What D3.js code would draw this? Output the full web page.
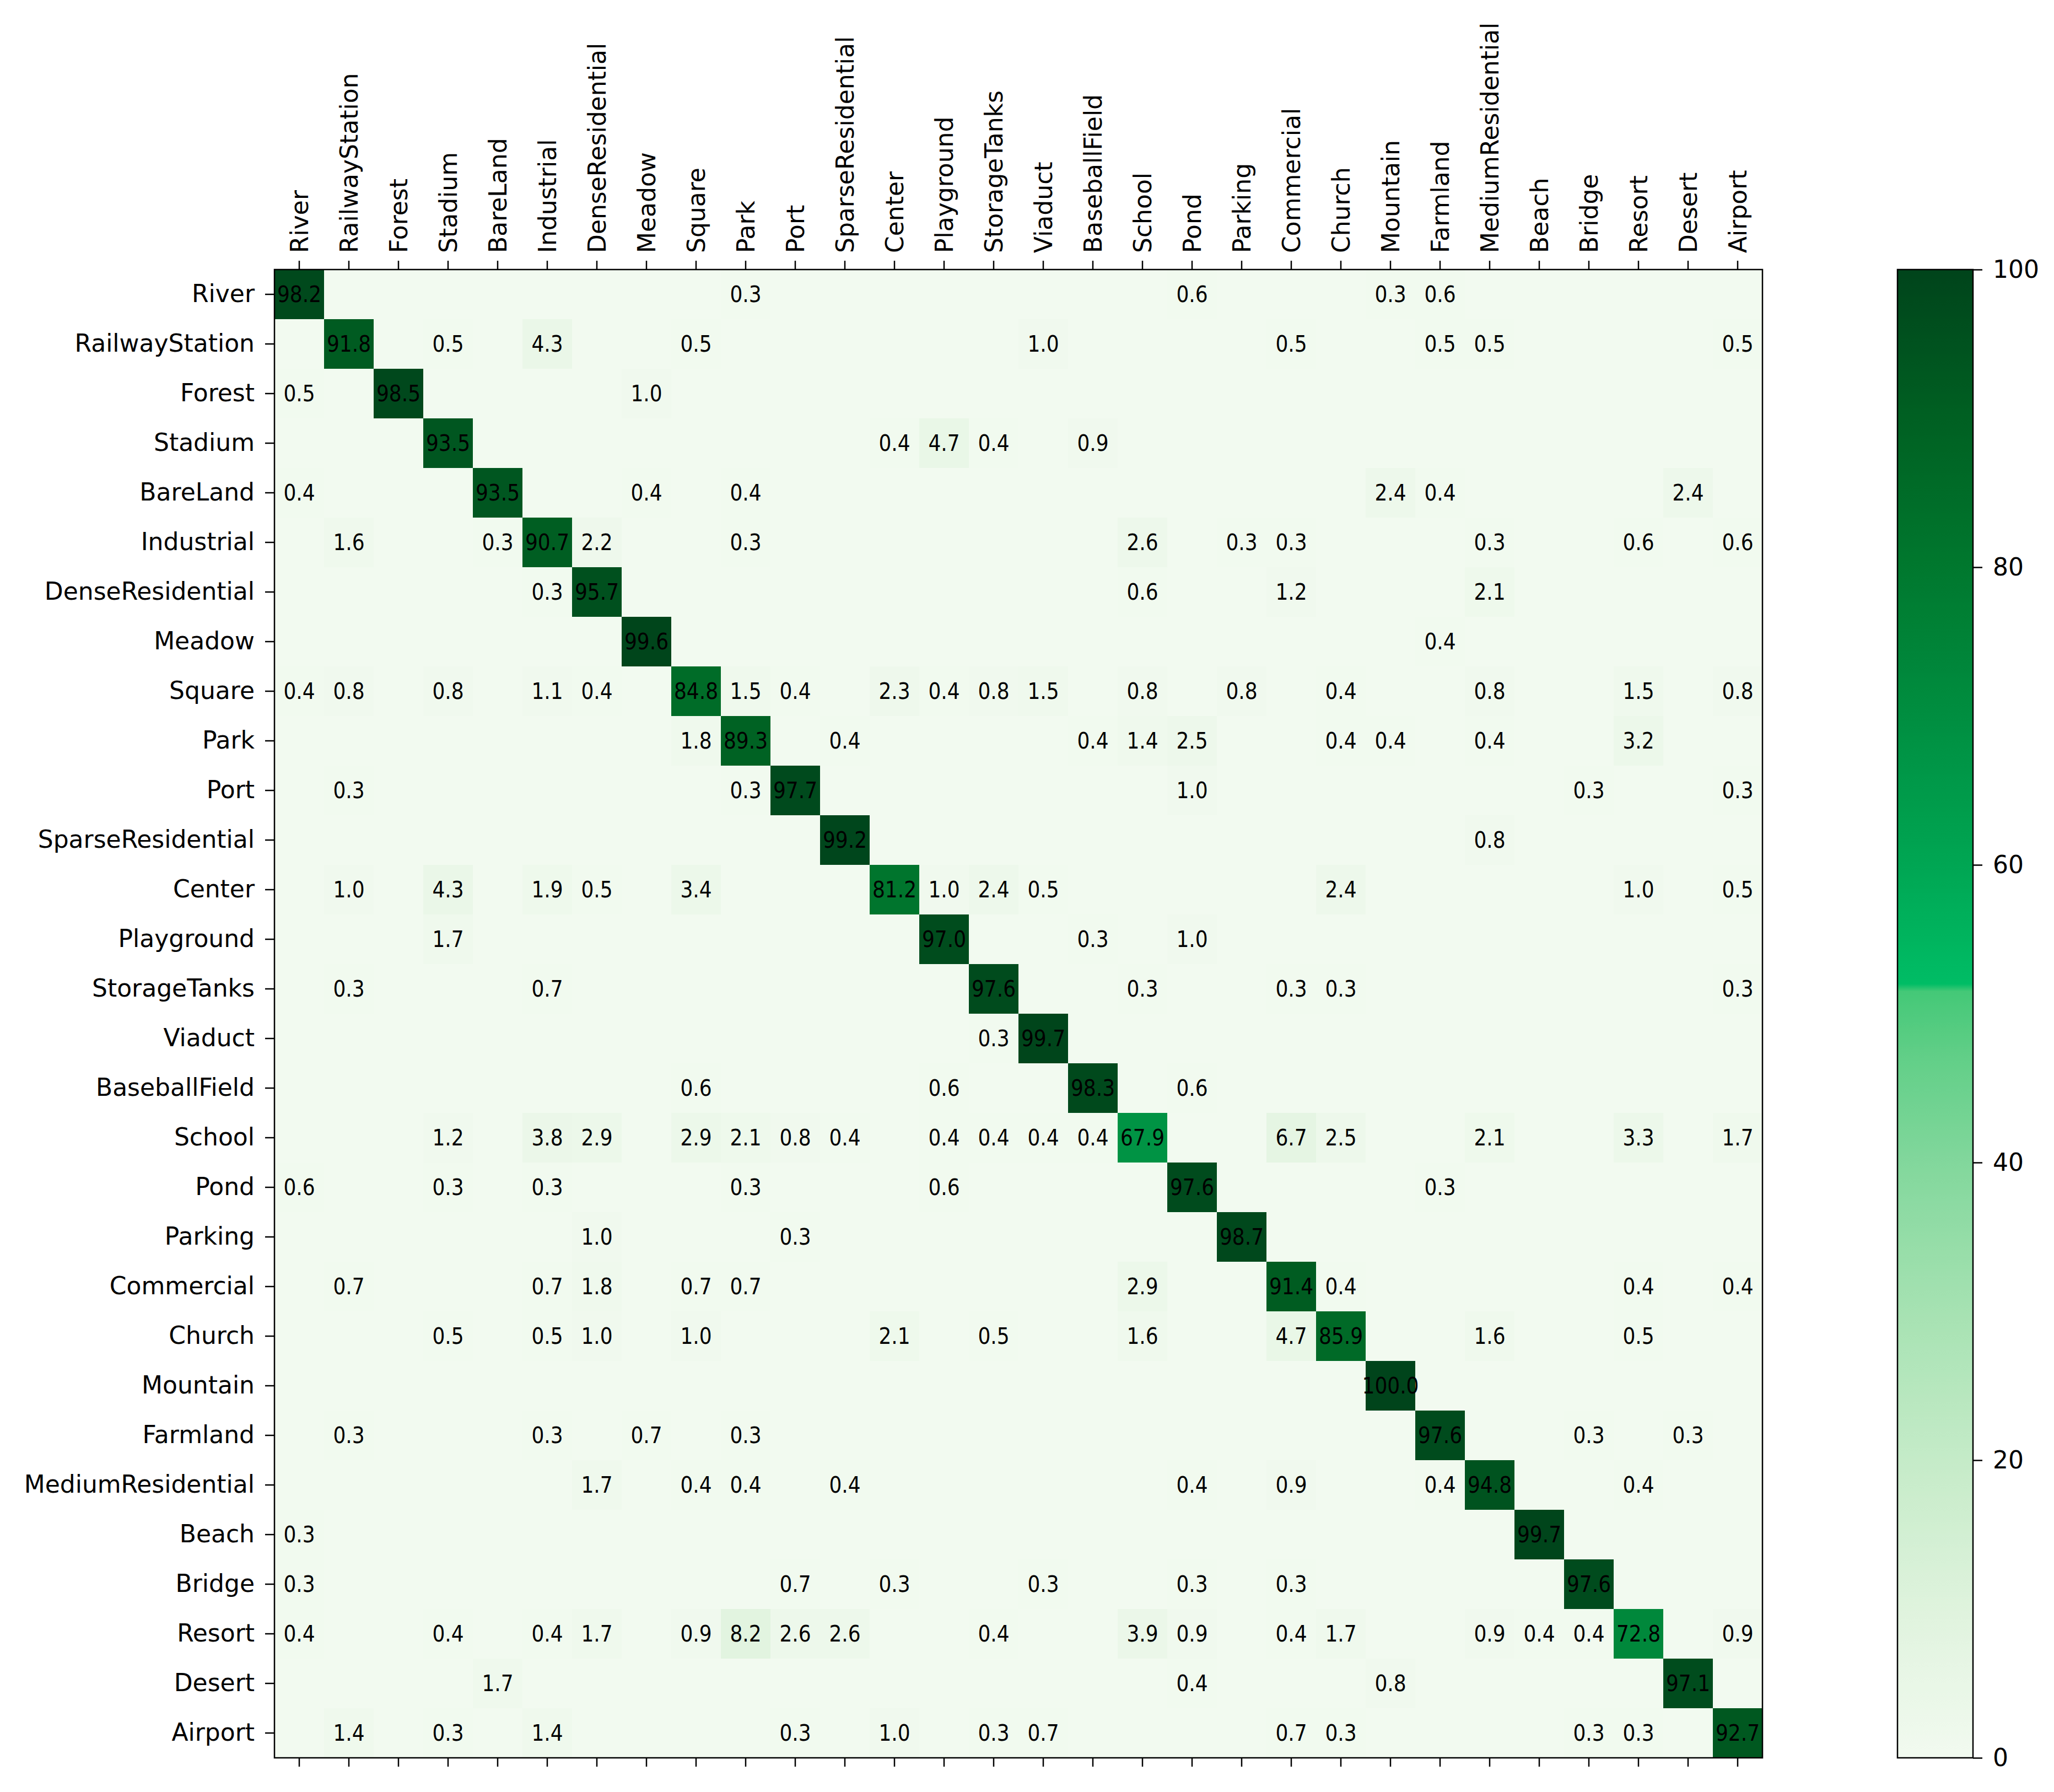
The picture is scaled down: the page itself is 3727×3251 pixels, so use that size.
<!DOCTYPE html>
<html>
<head>
<meta charset="utf-8">
<script src="https://cdn.jsdelivr.net/npm/d3@7"></script>
<style>
  body { margin: 0; background: #fff; }
  svg text { font-family: 'DejaVu Sans', sans-serif; fill: #000; }
</style>
</head>
<body>
<svg id="chart"></svg>
<script>
var CLASSES = ['River', 'RailwayStation', 'Forest', 'Stadium', 'BareLand', 'Industrial',
  'DenseResidential', 'Meadow', 'Square', 'Park', 'Port', 'SparseResidential', 'Center',
  'Playground', 'StorageTanks', 'Viaduct', 'BaseballField', 'School', 'Pond', 'Parking',
  'Commercial', 'Church', 'Mountain', 'Farmland', 'MediumResidential', 'Beach', 'Bridge',
  'Resort', 'Desert', 'Airport'];

// correct predictions (%), one per class in the order above
var DIAGONAL = [98.2, 91.8, 98.5, 93.5, 93.5, 90.7, 95.7, 99.6, 84.8, 89.3,
  97.7, 99.2, 81.2, 97.0, 97.6, 99.7, 98.3, 67.9, 97.6, 98.7,
  91.4, 85.9, 100.0, 97.6, 94.8, 99.7, 97.6, 72.8, 97.1, 92.7];

// [true class, predicted class, %]
var MISSES = [
  ['River', 'Park', 0.3], ['River', 'Pond', 0.6], ['River', 'Mountain', 0.3], ['River', 'Farmland', 0.6],
  ['RailwayStation', 'Stadium', 0.5], ['RailwayStation', 'Industrial', 4.3], ['RailwayStation', 'Square', 0.5],
  ['RailwayStation', 'Viaduct', 1.0], ['RailwayStation', 'Commercial', 0.5], ['RailwayStation', 'Farmland', 0.5],
  ['RailwayStation', 'MediumResidential', 0.5], ['RailwayStation', 'Airport', 0.5],
  ['Forest', 'River', 0.5], ['Forest', 'Meadow', 1.0],
  ['Stadium', 'Center', 0.4], ['Stadium', 'Playground', 4.7], ['Stadium', 'StorageTanks', 0.4], ['Stadium', 'BaseballField', 0.9],
  ['BareLand', 'River', 0.4], ['BareLand', 'Meadow', 0.4], ['BareLand', 'Park', 0.4], ['BareLand', 'Mountain', 2.4],
  ['BareLand', 'Farmland', 0.4], ['BareLand', 'Desert', 2.4],
  ['Industrial', 'RailwayStation', 1.6], ['Industrial', 'BareLand', 0.3], ['Industrial', 'DenseResidential', 2.2],
  ['Industrial', 'Park', 0.3], ['Industrial', 'School', 2.6], ['Industrial', 'Parking', 0.3], ['Industrial', 'Commercial', 0.3],
  ['Industrial', 'MediumResidential', 0.3], ['Industrial', 'Resort', 0.6], ['Industrial', 'Airport', 0.6],
  ['DenseResidential', 'Industrial', 0.3], ['DenseResidential', 'School', 0.6], ['DenseResidential', 'Commercial', 1.2],
  ['DenseResidential', 'MediumResidential', 2.1],
  ['Meadow', 'Farmland', 0.4],
  ['Square', 'River', 0.4], ['Square', 'RailwayStation', 0.8], ['Square', 'Stadium', 0.8], ['Square', 'Industrial', 1.1],
  ['Square', 'DenseResidential', 0.4], ['Square', 'Park', 1.5], ['Square', 'Port', 0.4], ['Square', 'Center', 2.3],
  ['Square', 'Playground', 0.4], ['Square', 'StorageTanks', 0.8], ['Square', 'Viaduct', 1.5], ['Square', 'School', 0.8],
  ['Square', 'Parking', 0.8], ['Square', 'Church', 0.4], ['Square', 'MediumResidential', 0.8], ['Square', 'Resort', 1.5],
  ['Square', 'Airport', 0.8],
  ['Park', 'Square', 1.8], ['Park', 'SparseResidential', 0.4], ['Park', 'BaseballField', 0.4], ['Park', 'School', 1.4],
  ['Park', 'Pond', 2.5], ['Park', 'Church', 0.4], ['Park', 'Mountain', 0.4], ['Park', 'MediumResidential', 0.4],
  ['Park', 'Resort', 3.2],
  ['Port', 'RailwayStation', 0.3], ['Port', 'Park', 0.3], ['Port', 'Pond', 1.0], ['Port', 'Bridge', 0.3], ['Port', 'Airport', 0.3],
  ['SparseResidential', 'MediumResidential', 0.8],
  ['Center', 'RailwayStation', 1.0], ['Center', 'Stadium', 4.3], ['Center', 'Industrial', 1.9], ['Center', 'DenseResidential', 0.5],
  ['Center', 'Square', 3.4], ['Center', 'Playground', 1.0], ['Center', 'StorageTanks', 2.4], ['Center', 'Viaduct', 0.5],
  ['Center', 'Church', 2.4], ['Center', 'Resort', 1.0], ['Center', 'Airport', 0.5],
  ['Playground', 'Stadium', 1.7], ['Playground', 'BaseballField', 0.3], ['Playground', 'Pond', 1.0],
  ['StorageTanks', 'RailwayStation', 0.3], ['StorageTanks', 'Industrial', 0.7], ['StorageTanks', 'School', 0.3],
  ['StorageTanks', 'Commercial', 0.3], ['StorageTanks', 'Church', 0.3], ['StorageTanks', 'Airport', 0.3],
  ['Viaduct', 'StorageTanks', 0.3],
  ['BaseballField', 'Square', 0.6], ['BaseballField', 'Playground', 0.6], ['BaseballField', 'Pond', 0.6],
  ['School', 'Stadium', 1.2], ['School', 'Industrial', 3.8], ['School', 'DenseResidential', 2.9], ['School', 'Square', 2.9],
  ['School', 'Park', 2.1], ['School', 'Port', 0.8], ['School', 'SparseResidential', 0.4], ['School', 'Playground', 0.4],
  ['School', 'StorageTanks', 0.4], ['School', 'Viaduct', 0.4], ['School', 'BaseballField', 0.4], ['School', 'Commercial', 6.7],
  ['School', 'Church', 2.5], ['School', 'MediumResidential', 2.1], ['School', 'Resort', 3.3], ['School', 'Airport', 1.7],
  ['Pond', 'River', 0.6], ['Pond', 'Stadium', 0.3], ['Pond', 'Industrial', 0.3], ['Pond', 'Park', 0.3],
  ['Pond', 'Playground', 0.6], ['Pond', 'Farmland', 0.3],
  ['Parking', 'DenseResidential', 1.0], ['Parking', 'Port', 0.3],
  ['Commercial', 'RailwayStation', 0.7], ['Commercial', 'Industrial', 0.7], ['Commercial', 'DenseResidential', 1.8],
  ['Commercial', 'Square', 0.7], ['Commercial', 'Park', 0.7], ['Commercial', 'School', 2.9], ['Commercial', 'Church', 0.4],
  ['Commercial', 'Resort', 0.4], ['Commercial', 'Airport', 0.4],
  ['Church', 'Stadium', 0.5], ['Church', 'Industrial', 0.5], ['Church', 'DenseResidential', 1.0], ['Church', 'Square', 1.0],
  ['Church', 'Center', 2.1], ['Church', 'StorageTanks', 0.5], ['Church', 'School', 1.6], ['Church', 'Commercial', 4.7],
  ['Church', 'MediumResidential', 1.6], ['Church', 'Resort', 0.5],
  ['Farmland', 'RailwayStation', 0.3], ['Farmland', 'Industrial', 0.3], ['Farmland', 'Meadow', 0.7], ['Farmland', 'Park', 0.3],
  ['Farmland', 'Bridge', 0.3], ['Farmland', 'Desert', 0.3],
  ['MediumResidential', 'DenseResidential', 1.7], ['MediumResidential', 'Square', 0.4], ['MediumResidential', 'Park', 0.4],
  ['MediumResidential', 'SparseResidential', 0.4], ['MediumResidential', 'Pond', 0.4], ['MediumResidential', 'Commercial', 0.9],
  ['MediumResidential', 'Farmland', 0.4], ['MediumResidential', 'Resort', 0.4],
  ['Beach', 'River', 0.3],
  ['Bridge', 'River', 0.3], ['Bridge', 'Port', 0.7], ['Bridge', 'Center', 0.3], ['Bridge', 'Viaduct', 0.3],
  ['Bridge', 'Pond', 0.3], ['Bridge', 'Commercial', 0.3],
  ['Resort', 'River', 0.4], ['Resort', 'Stadium', 0.4], ['Resort', 'Industrial', 0.4], ['Resort', 'DenseResidential', 1.7],
  ['Resort', 'Square', 0.9], ['Resort', 'Park', 8.2], ['Resort', 'Port', 2.6], ['Resort', 'SparseResidential', 2.6],
  ['Resort', 'StorageTanks', 0.4], ['Resort', 'School', 3.9], ['Resort', 'Pond', 0.9], ['Resort', 'Commercial', 0.4],
  ['Resort', 'Church', 1.7], ['Resort', 'MediumResidential', 0.9], ['Resort', 'Beach', 0.4], ['Resort', 'Bridge', 0.4],
  ['Resort', 'Airport', 0.9],
  ['Desert', 'BareLand', 1.7], ['Desert', 'Pond', 0.4], ['Desert', 'Mountain', 0.8],
  ['Airport', 'RailwayStation', 1.4], ['Airport', 'Stadium', 0.3], ['Airport', 'Industrial', 1.4], ['Airport', 'Port', 0.3],
  ['Airport', 'Center', 1.0], ['Airport', 'StorageTanks', 0.3], ['Airport', 'Viaduct', 0.7], ['Airport', 'Commercial', 0.7],
  ['Airport', 'Church', 0.3], ['Airport', 'Bridge', 0.3], ['Airport', 'Resort', 0.3]
];

var COLORBAR_TICKS = [0, 20, 40, 60, 80, 100];

// colour map (note the jump just above 50)
var CMAP_STOPS = [0, 10, 20, 30, 40, 47, 51.5, 51.6, 60, 70, 80, 90, 100];
var CMAP_COLORS = ['#f2faf0', '#dff3dd', '#c5ebc8', '#a6e2b2', '#82d79c', '#62cf88', '#44c877',
  '#00be66', '#00a653', '#008e40', '#00782e', '#006022', '#00441b'];

var WIDTH = 3727;
var HEIGHT = 3251;
var LEFT = 498;
var TOP = 489;
var SIZE = 2700;
var BAR_X = 3443;
var BAR_W = 137;
var LINE_W = 2.5;

var svg = d3.select('#chart')
  .attr('width', WIDTH)
  .attr('height', HEIGHT);

var x = d3.scaleBand().domain(CLASSES).range([0, SIZE]);
var y = d3.scaleBand().domain(CLASSES).range([0, SIZE]);
var color = d3.scaleLinear()
  .domain(CMAP_STOPS)
  .range(CMAP_COLORS)
  .clamp(true);

function buildCells () {
  var lookup = {};
  MISSES.forEach(function (m) { lookup[m[0] + '|' + m[1]] = m[2]; });
  var cells = [];
  CLASSES.forEach(function (truth, i) {
    CLASSES.forEach(function (pred, j) {
      var v = i === j ? DIAGONAL[i] : (lookup[truth + '|' + pred] || 0);
      cells.push({ truth: truth, pred: pred, value: v });
    });
  });
  return cells;
}

function styleAxis (g, fontSize) {
  g.select('.domain').remove();
  g.selectAll('.tick line')
    .attr('stroke', '#000')
    .attr('stroke-width', LINE_W);
  g.selectAll('.tick text')
    .attr('font-size', fontSize)
    .attr('font-family', 'DejaVu Sans, sans-serif')
    .attr('fill', '#000');
}

function drawMatrix (cells) {
  var plot = svg.append('g')
    .attr('transform', 'translate(' + LEFT + ',' + TOP + ')');

  plot.selectAll('rect.cell')
    .data(cells)
    .enter()
      .append('rect')
      .attr('class', 'cell')
      .attr('x', function (d) { return x(d.pred); })
      .attr('y', function (d) { return y(d.truth); })
      .attr('width', x.bandwidth() + 0.5)
      .attr('height', y.bandwidth() + 0.5)
      .attr('fill', function (d) { return color(d.value); });

  plot.selectAll('text.val')
    .data(cells.filter(function (d) { return d.value > 0; }))
    .enter()
      .append('text')
      .attr('class', 'val')
      .attr('x', function (d) { return x(d.pred) + x.bandwidth() / 2; })
      .attr('y', function (d) { return y(d.truth) + y.bandwidth() / 2; })
      .attr('dy', '0.36em')
      .attr('text-anchor', 'middle')
      .style('font-family', "'DejaVu Sans Condensed', 'DejaVu Sans', sans-serif")
      .style('font-stretch', 'condensed')
      .style('font-size', '40px')
      .text(function (d) { return d3.format('.1f')(d.value); });

  // top labels, rotated
  var top = plot.append('g')
    .call(d3.axisTop(x).tickSize(16).tickPadding(14));
  styleAxis(top, 44);
  top.selectAll('.tick text')
    .attr('transform', 'rotate(-90)')
    .attr('x', 30)
    .attr('y', 0)
    .attr('dy', '0.36em')
    .attr('text-anchor', 'start');

  var left = plot.append('g')
    .call(d3.axisLeft(y).tickSize(17).tickPadding(19));
  styleAxis(left, 44);

  var bottom = plot.append('g')
    .attr('transform', 'translate(0,' + SIZE + ')')
    .call(d3.axisBottom(x).tickSize(16).tickFormat(''));
  styleAxis(bottom, 44);

  plot.append('rect')
    .attr('width', SIZE)
    .attr('height', SIZE)
    .attr('fill', 'none')
    .attr('stroke', '#000')
    .attr('stroke-width', LINE_W);
}

function drawColorbar () {
  var cy = d3.scaleLinear().domain([0, 100]).range([SIZE, 0]);

  var grad = svg.append('defs')
    .append('linearGradient')
      .attr('id', 'cbar')
      .attr('x1', 0).attr('y1', 1)
      .attr('x2', 0).attr('y2', 0);
  grad.selectAll('stop')
    .data(d3.range(0, 100.01, 0.5))
    .enter()
      .append('stop')
      .attr('offset', function (d) { return d / 100; })
      .attr('stop-color', function (d) { return color(d); });

  var bar = svg.append('g')
    .attr('transform', 'translate(' + BAR_X + ',' + TOP + ')');

  bar.append('rect')
    .attr('width', BAR_W)
    .attr('height', SIZE)
    .attr('fill', 'url(#cbar)')
    .attr('stroke', '#000')
    .attr('stroke-width', LINE_W);

  var axis = bar.append('g')
    .attr('transform', 'translate(' + BAR_W + ',0)')
    .call(d3.axisRight(cy).tickValues(COLORBAR_TICKS).tickSize(17).tickPadding(19));
  styleAxis(axis, 44);
}

drawMatrix(buildCells());
drawColorbar();
</script>
</body>
</html>
